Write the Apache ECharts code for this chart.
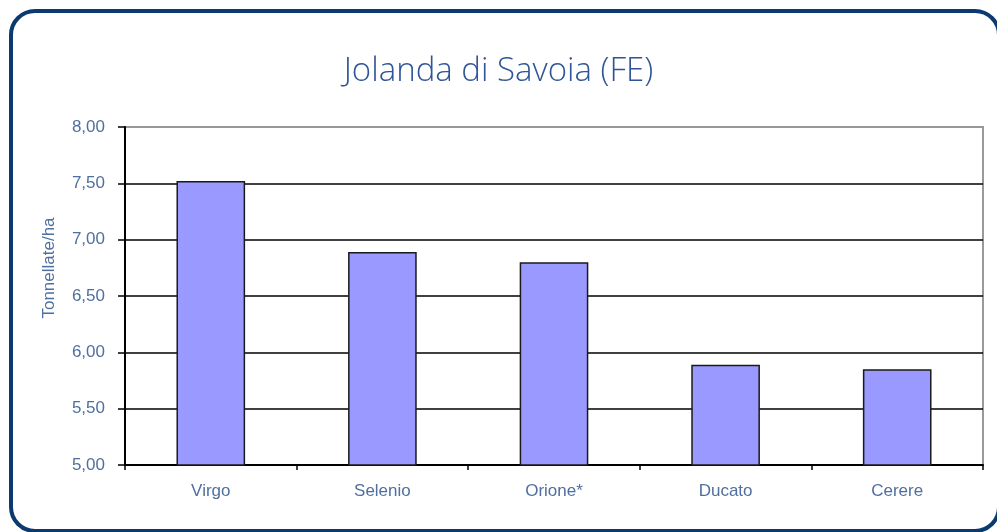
<!DOCTYPE html>
<html>
<head>
<meta charset="utf-8">
<script src="https://cdn.jsdelivr.net/npm/echarts@6/dist/echarts.min.js"></script>
<style>
  html, body { margin: 0; padding: 0; background: #fff; }
  #chart { width: 997px; height: 532px; }
</style>
</head>
<body>
<div id="chart"></div>
<script>
// dati
var varieta = ['Virgo', 'Selenio', 'Orione*', 'Ducato', 'Cerere'];
var resa = [7.52, 6.89, 6.80, 5.89, 5.85];
var yMin = 5, yMax = 8, yStep = 0.5;

var labelColor = '#4f6f9f';

var chart = echarts.init(document.getElementById('chart'));
chart.setOption({
    backgroundColor: '#fff',
    animation: false,
    title: {
        text: 'Jolanda di Savoia (FE)',
        left: 'center',
        top: 50,
        textStyle: {
            fontFamily: 'Open Sans',
            fontWeight: 300,
            fontSize: 33,
            color: '#2f5597'
        }
    },
    graphic: [{
        type: 'rect',
        shape: { x: 11, y: 11, width: 988, height: 520, r: 24 },
        style: { fill: null, stroke: '#0b3a6e', lineWidth: 4 },
        z: 100
    }, {
        type: 'text',
        x: 49,
        y: 268,
        rotation: Math.PI / 2,
        style: {
            text: 'Tonnellate/ha',
            fill: labelColor,
            font: '17px "Liberation Sans", Arial, sans-serif',
            align: 'center',
            verticalAlign: 'middle'
        }
    }],
    grid: {
        left: 125, top: 127, right: 14, bottom: 67,
        show: true,
        borderColor: '#999',
        borderWidth: 2
    },
    xAxis: {
        type: 'category',
        data: varieta,
        axisLine: { lineStyle: { color: '#000', width: 2 } },
        axisTick: { show: true, length: 5, lineStyle: { color: '#000', width: 1.5 } },
        axisLabel: {
            margin: 18,
            color: labelColor,
            fontSize: 17,
            fontFamily: 'Liberation Sans'
        }
    },
    yAxis: {
        type: 'value',
        min: yMin,
        max: yMax,
        interval: yStep,
        axisLine: { show: true, lineStyle: { color: '#000', width: 2 } },
        axisTick: { show: true, length: 7, lineStyle: { color: '#000', width: 1.5 } },
        splitLine: {
            lineStyle: {
                color: ['#000', '#000', '#000', '#000', '#000', '#000', '#999'],
                width: 1.5
            }
        },
        axisLabel: {
            margin: 20,
            color: labelColor,
            fontSize: 17,
            fontFamily: 'Liberation Sans',
            formatter: function (v) { return v.toFixed(2).replace('.', ','); }
        }
    },
    series: [{
        type: 'bar',
        data: resa,
        barWidth: '40%',
        itemStyle: {
            color: '#9999ff',
            borderColor: '#1a1a1a',
            borderWidth: 1.5
        }
    }]
});
</script>
</body>
</html>
